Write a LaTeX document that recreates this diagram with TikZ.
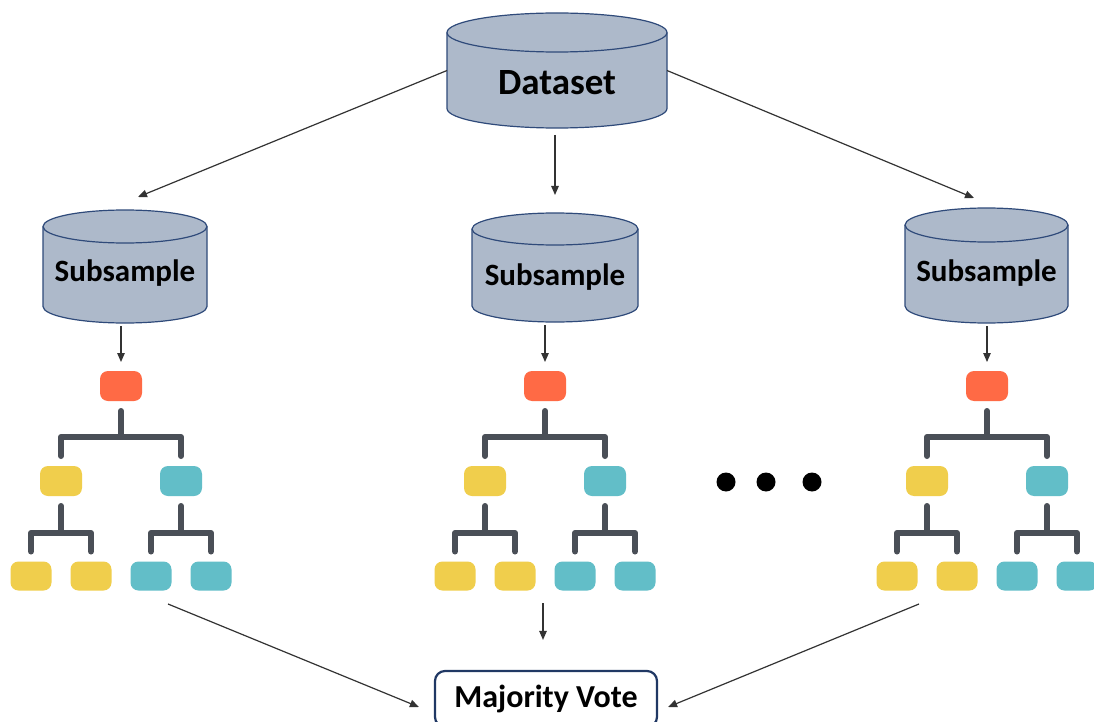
\documentclass[tikz,border=0pt]{standalone}
\usepackage{fontspec}
\setmainfont{Carlito}
\usetikzlibrary{arrows.meta,calc}

\definecolor{drumfill}{HTML}{ADB9CA}
\definecolor{drumline}{HTML}{2F4A7A}
\definecolor{rootc}{HTML}{FF6A45}
\definecolor{yelc}{HTML}{F0CE4C}
\definecolor{tealc}{HTML}{62BEC8}
\definecolor{branchc}{HTML}{4A4F57}
\definecolor{arrowc}{HTML}{333333}
\definecolor{votec}{HTML}{203864}

\tikzset{
  drumedge/.style={draw=drumline, line width=1.2pt},
  drumbox/.style={inner sep=0pt, outer sep=0pt},
  drumtext/.style={font=\bfseries, text=black, inner sep=0pt},
  arr/.style={draw=arrowc, line width=1.2pt, -{Triangle[length=9pt,width=7.5pt]}},
  treebox/.style={rounded corners=8pt, inner sep=0pt, outer sep=0pt},
  treeroot/.style={treebox, fill=rootc, minimum width=42pt, minimum height=30pt},
  yelnode/.style={treebox, fill=yelc, minimum width=42pt, minimum height=30pt},
  tealnode/.style={treebox, fill=tealc, minimum width=42pt, minimum height=30pt},
  yelleaf/.style={treebox, fill=yelc, minimum width=41pt, minimum height=29pt},
  tealleaf/.style={treebox, fill=tealc, minimum width=41pt, minimum height=29pt},
  treebranch/.style={draw=branchc, line width=6pt, line cap=round, line join=round},
  votebox/.style={draw=votec, line width=2.2pt, rounded corners=10pt, fill=white,
    minimum width=222pt, minimum height=56pt, inner sep=0pt,
    font=\fontsize{32}{36}\selectfont\bfseries},
  dot/.style={circle, fill=black, inner sep=0pt, minimum size=19pt}
}

% Cylinder: #1 name, #2 centre x, #3 top y, #4 bottom y, #5 half width,
% #6 cap radius, #7 text drop, #8 font size, #9 label
\newcommand\drum[9]{%
  \path[fill=drumfill, drumedge]
    ({#2-#5},{#3+#6}) -- ({#2-#5},{#4-#6})
    arc[start angle=180, end angle=360, x radius=#5pt, y radius=#6pt]
    -- ({#2+#5},{#3+#6})
    arc[start angle=0, end angle=180, x radius=#5pt, y radius=#6pt] -- cycle;
  \draw[drumedge] ({#2-#5},{#3+#6})
    arc[start angle=180, end angle=360, x radius=#5pt, y radius=#6pt];
  \node[drumbox, minimum width={2*#5 pt}, minimum height={(#4-#3)*1pt},
    label={[drumtext, font=\fontsize{#8}{#8}\selectfont\bfseries, yshift=-#7pt]center:#9}]
    (#1) at (#2,{(#3+#4)/2}) {};
}

% Decision tree: #1 prefix, #2 centre x
\newcommand\dtree[2]{%
  \node[treeroot] (#1r) at (#2,386) {};
  \node[yelnode] (#1a) at ({#2-60},481) {};
  \node[tealnode] (#1b) at ({#2+60},481) {};
  \node[yelleaf] (#1aa) at ({#2-90},576) {};
  \node[yelleaf] (#1ab) at ({#2-30},576) {};
  \node[tealleaf] (#1ba) at ({#2+30},576) {};
  \node[tealleaf] (#1bb) at ({#2+90},576) {};
  \draw[treebranch] ([yshift=-10pt]#1r.south) -- ++(0,26) coordinate (#1j)
    -| ([yshift=10pt]#1a.north);
  \draw[treebranch] (#1j) -| ([yshift=10pt]#1b.north);
  \draw[treebranch] ([yshift=-10pt]#1a.south) -- ++(0,27) coordinate (#1ja)
    -| ([yshift=10pt]#1aa.north);
  \draw[treebranch] (#1ja) -| ([yshift=10pt]#1ab.north);
  \draw[treebranch] ([yshift=-10pt]#1b.south) -- ++(0,27) coordinate (#1jb)
    -| ([yshift=10pt]#1ba.north);
  \draw[treebranch] (#1jb) -| ([yshift=10pt]#1bb.north);
}

\begin{document}
\begin{tikzpicture}[x=1pt, y=-1pt]
  \clip (0,0) rectangle (1094,722);
  \fill[white] (0,0) rectangle (1094,722);

  % data stores
  \drum{data}{557}{13}{128}{110}{19.5}{12}{37}{Dataset}
  \drum{s1}{125}{210}{323}{82}{16.5}{7}{31}{Subsample}
  \drum{s2}{555}{213}{322}{83}{16}{9.5}{31}{Subsample}
  \drum{s3}{986.5}{208}{323}{81.5}{17}{8}{31}{Subsample}

  % trees
  \dtree{t1}{121}
  \dtree{t2}{545}
  \dtree{t3}{987}

  % ellipsis between trees
  \node[dot] (d1) at (726,482) {};
  \node[dot] (d2) at (766,482) {};
  \node[dot] (d3) at (812,482) {};

  % aggregation
  \node[votebox] (mv) at (546,699) {Majority Vote};

  % dataset to subsamples
  \draw[arr] (data.west) -- ($(s1.north)+(13,-13)$);
  \draw[arr] ($(data.south -| s2.north)+(0,7)$) -- ($(s2.north)+(0,-18)$);
  \draw[arr] (data.east) -- ($(s3.north)+(-12.5,-10)$);

  % subsamples to trees
  \draw[arr] ($(s1.south -| t1r.north)+(0,3)$) -- ($(t1r.north)+(0,-9)$);
  \draw[arr] ($(s2.south -| t2r.north)+(0,3)$) -- ($(t2r.north)+(0,-9)$);
  \draw[arr] ($(s3.south -| t3r.north)+(0,3)$) -- ($(t3r.north)+(0,-9)$);

  % trees to vote
  \coordinate (t1out) at (168,604);
  \coordinate (t2out) at (543,603);
  \coordinate (t3out) at (919,604);
  \draw[arr] (t1out) -- ($(mv.west)+(-15,8)$);
  \draw[arr] (t2out) -- ($(t2out |- mv.north)+(0,-30)$);
  \draw[arr] (t3out) -- ($(mv.east)+(10,8)$);
\end{tikzpicture}
\end{document}
